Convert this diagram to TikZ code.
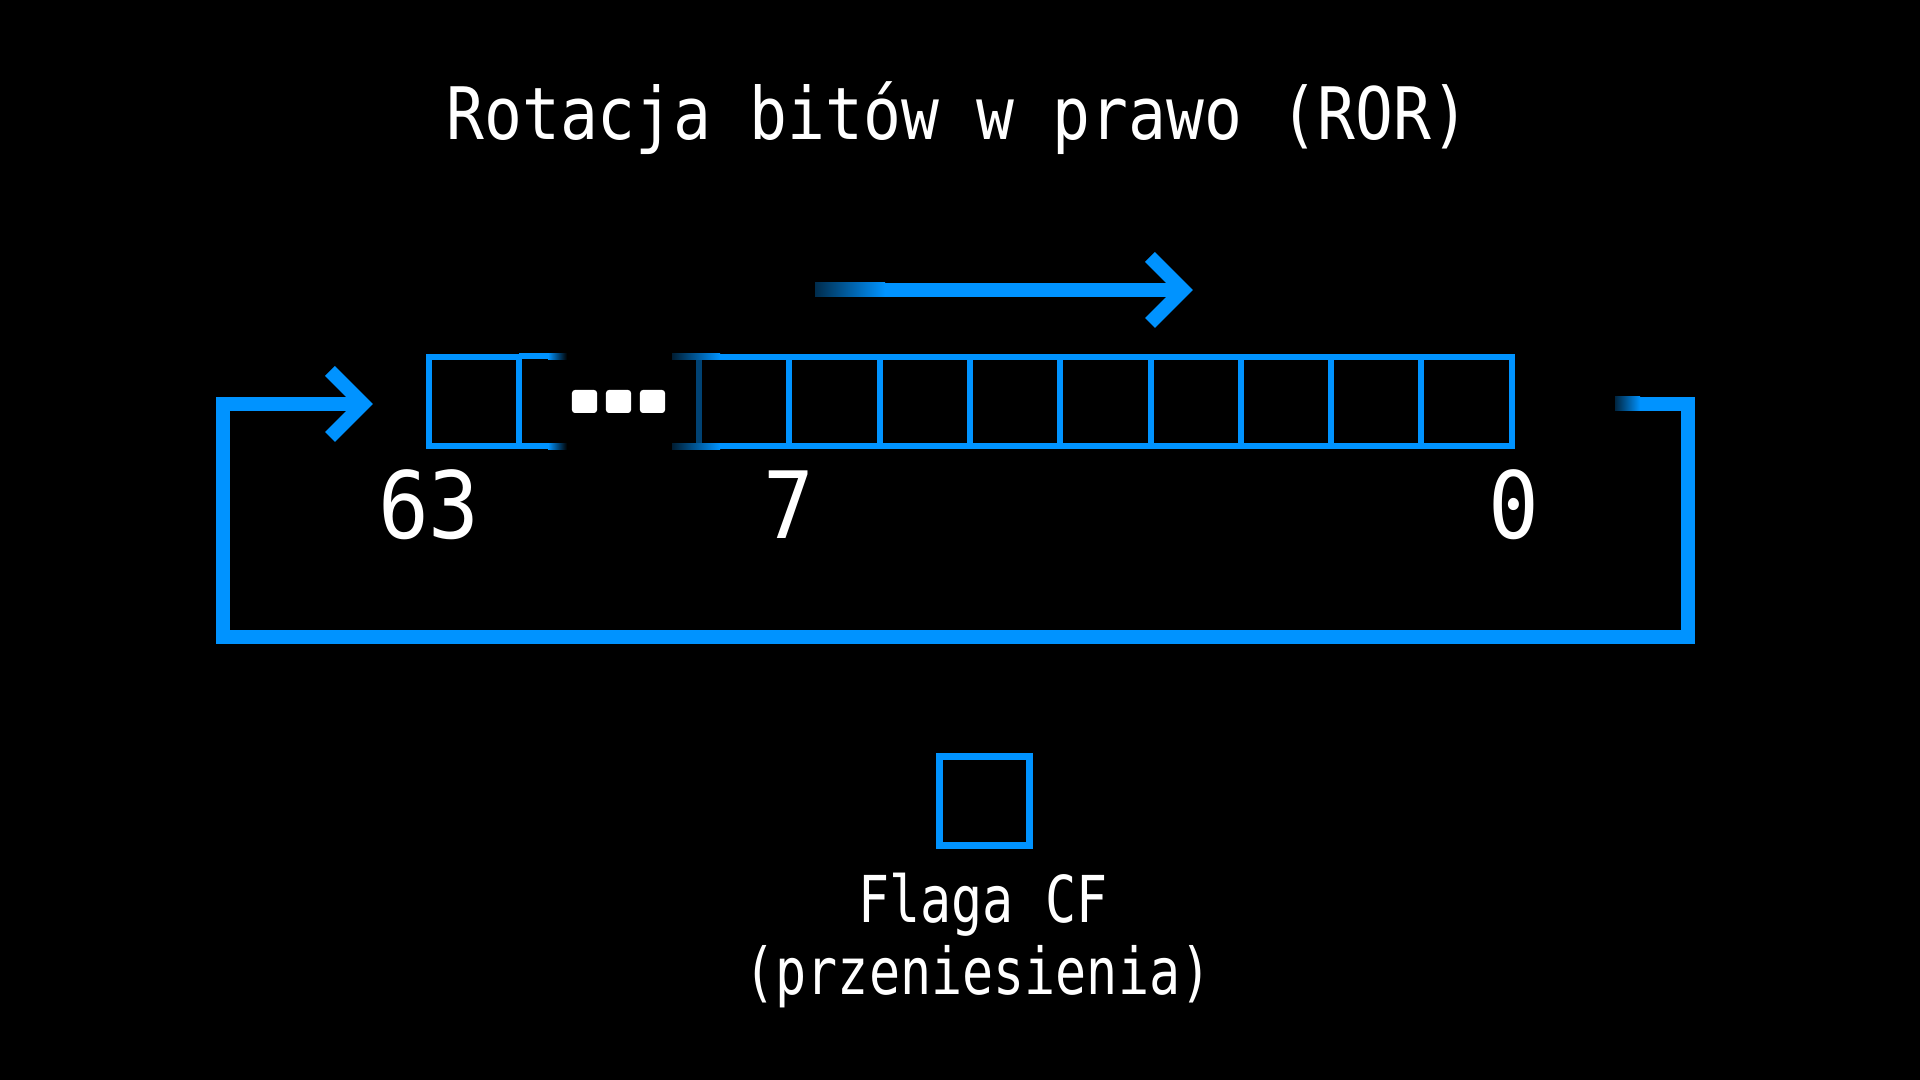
\documentclass[tikz,border=0pt]{standalone}
\usepackage{fontspec}
\usepackage{graphicx}
\newfontfamily\rorfont{DejaVu Sans Mono}
\definecolor{rorblue}{RGB}{0,147,255}
\newcommand{\tallText}[2]{\scalebox{1}[#1]{#2}}

\begin{document}
\begin{tikzpicture}[x=0.01cm,y=0.01cm,
  bitbox/.style={draw=rorblue,line width=0.6mm,minimum width=9.03mm,minimum height=8.9mm,inner sep=0pt,outer sep=0pt},
  flagbox/.style={draw=rorblue,line width=0.7mm,minimum width=9mm,minimum height=8.9mm,inner sep=0pt,outer sep=0pt},
  flow/.style={draw=rorblue,line width=1.4mm},
  bitnum/.style={text=white,font=\rorfont\fontsize{24}{28}\selectfont,anchor=base,inner sep=0pt},
  caption/.style={text=white,font=\rorfont\fontsize{14.7}{17}\selectfont,anchor=base,inner sep=0pt},
  dot/.style={fill=white,rounded corners=0.3mm,minimum width=2.5mm,minimum height=2.3mm,inner sep=0pt}]
\fill[black] (0,0) rectangle (1920,1080);
\node[text=white,font=\rorfont\fontsize{17.9}{20}\selectfont,anchor=base,inner sep=0pt] (title) at (958,940) {\tallText{1.15}{Rotacja bitów w prawo (ROR)}};
% rejestr
\node[bitbox] (b63) at (474,678.5) {};
\foreach \i in {0,...,8}
  \node[bitbox] (b\i) at ({1466.6-90.3*\i},678.5) {};
\fill[rorblue] (519,720.5) rectangle (548,726.5);
\fill[rorblue] (519,630.5) rectangle (548,636.5);
\shade[left color=rorblue,right color=black] (548,720.5) rectangle (567,726.5);
\shade[left color=rorblue,right color=black] (548,630.5) rectangle (567,636.5);
\draw[rorblue!45!black,line width=0.6mm] (699,630.5) -- (699,726.5);
\shade[left color=rorblue!20!black,right color=rorblue] (672,720.5) rectangle (720,726.5);
\shade[left color=rorblue!20!black,right color=rorblue] (672,630.5) rectangle (720,636.5);
\node[dot] (d1) at (584.5,678.5) {};
\node[dot] (d2) at (618.5,678.5) {};
\node[dot] (d3) at (652.5,678.5) {};
\node[bitnum] (n63) at (429,541) {\tallText{1.1}{63}};
\node[bitnum] (n7)  at (789,541) {\tallText{1.1}{7}};
\node[bitnum] (n0)  at (1514,541) {\tallText{1.1}{0}};
% kierunek
\coordinate (dirA) at (885,790);
\coordinate (dirB) at (1183,790);
\shade[left color=rorblue!30!black,right color=rorblue] (815,783) rectangle (885,797);
\draw[flow] (dirA) -- (dirB);
\draw[flow] (dirB) ++(-33,33) -- (dirB) -- ++(-33,-33);
% petla
\coordinate (loopin) at (1640,676);
\coordinate (tipL) at (363,676);
\shade[left color=rorblue!25!black,right color=rorblue] (1615,669) rectangle (1640,683);
\draw[flow] (loopin) -- (1688,676) -- (1688,443) -- (223,443) -- (223,676) -- (tipL);
\draw[flow] (tipL) ++(-33,33) -- (tipL) -- ++(-33,-33);
% flaga
\node[flagbox] (cf) at (984.5,279) {};
\node[caption] (cf1) at (983,157) {\tallText{1.25}{Flaga CF}};
\node[caption] (cf2) at (978,85) {\tallText{1.25}{(przeniesienia)}};
\end{tikzpicture}
\end{document}
